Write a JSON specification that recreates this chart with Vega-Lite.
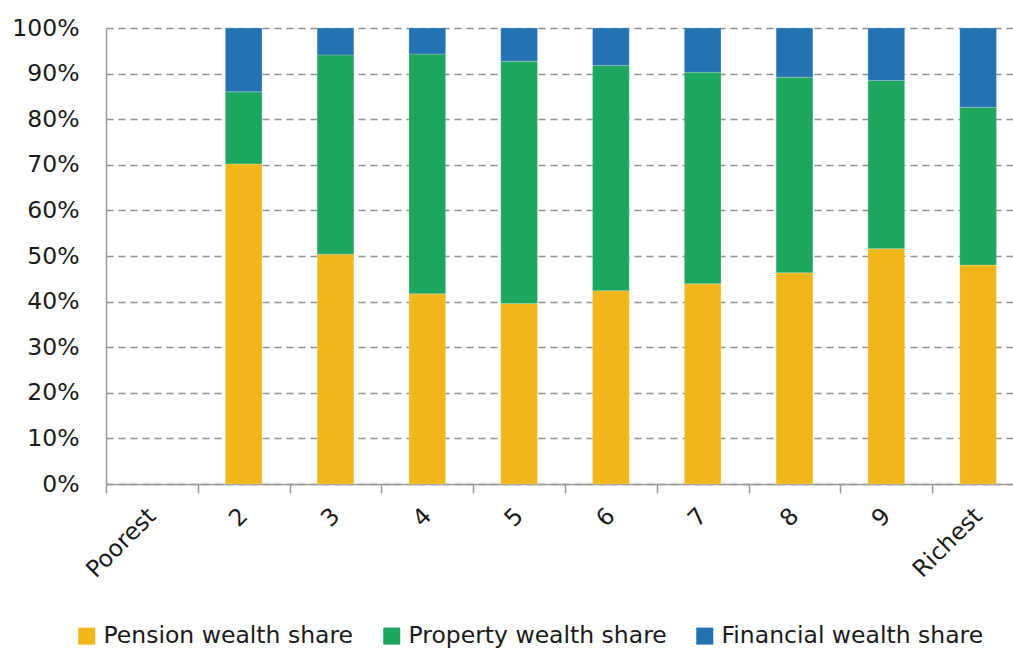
{
  "$schema": "https://vega.github.io/schema/vega-lite/v6.json",
  "width": 907,
  "height": 456,
  "autosize": {"type": "none"},
  "padding": {"left": 106, "top": 28, "right": 0, "bottom": 164},
  "background": "white",
  "config": {
    "view": {"stroke": null},
    "font": "DejaVu Sans"
  },
  "data": {
    "values": [
      {"decile": "2", "type": "Pension wealth share", "ord": 1, "share": 70.2},
      {"decile": "2", "type": "Property wealth share", "ord": 2, "share": 15.8},
      {"decile": "2", "type": "Financial wealth share", "ord": 3, "share": 14.0},
      {"decile": "3", "type": "Pension wealth share", "ord": 1, "share": 50.4},
      {"decile": "3", "type": "Property wealth share", "ord": 2, "share": 43.7},
      {"decile": "3", "type": "Financial wealth share", "ord": 3, "share": 5.9},
      {"decile": "4", "type": "Pension wealth share", "ord": 1, "share": 41.7},
      {"decile": "4", "type": "Property wealth share", "ord": 2, "share": 52.6},
      {"decile": "4", "type": "Financial wealth share", "ord": 3, "share": 5.7},
      {"decile": "5", "type": "Pension wealth share", "ord": 1, "share": 39.6},
      {"decile": "5", "type": "Property wealth share", "ord": 2, "share": 53.1},
      {"decile": "5", "type": "Financial wealth share", "ord": 3, "share": 7.3},
      {"decile": "6", "type": "Pension wealth share", "ord": 1, "share": 42.4},
      {"decile": "6", "type": "Property wealth share", "ord": 2, "share": 49.4},
      {"decile": "6", "type": "Financial wealth share", "ord": 3, "share": 8.2},
      {"decile": "7", "type": "Pension wealth share", "ord": 1, "share": 43.9},
      {"decile": "7", "type": "Property wealth share", "ord": 2, "share": 46.4},
      {"decile": "7", "type": "Financial wealth share", "ord": 3, "share": 9.7},
      {"decile": "8", "type": "Pension wealth share", "ord": 1, "share": 46.3},
      {"decile": "8", "type": "Property wealth share", "ord": 2, "share": 42.9},
      {"decile": "8", "type": "Financial wealth share", "ord": 3, "share": 10.8},
      {"decile": "9", "type": "Pension wealth share", "ord": 1, "share": 51.6},
      {"decile": "9", "type": "Property wealth share", "ord": 2, "share": 36.9},
      {"decile": "9", "type": "Financial wealth share", "ord": 3, "share": 11.5},
      {"decile": "Richest", "type": "Pension wealth share", "ord": 1, "share": 48.0},
      {"decile": "Richest", "type": "Property wealth share", "ord": 2, "share": 34.6},
      {"decile": "Richest", "type": "Financial wealth share", "ord": 3, "share": 17.4}
    ]
  },
  "mark": {"type": "bar", "width": {"band": 0.4}, "stroke": "white", "strokeWidth": 0.6, "strokeOpacity": 0.35},
  "encoding": {
    "x": {
      "field": "decile",
      "type": "nominal",
      "sort": null,
      "scale": {
        "domain": ["Poorest", "2", "3", "4", "5", "6", "7", "8", "9", "Richest"],
        "range": [0, 918],
        "paddingInner": 0,
        "paddingOuter": 0
      },
      "axis": {
        "title": null,
        "labelAngle": -45,
        "labelAlign": "right",
        "labelBaseline": "middle",
        "labelFontSize": 23.5,
        "labelColor": "#1a1a1a",
        "labelPadding": 19,
        "tickBand": "extent",
        "tickSize": 9,
        "tickColor": "#9a9a9a",
        "tickWidth": 1.5,
        "domainColor": "#9a9a9a",
        "domainWidth": 1.5,
        "grid": false
      }
    },
    "y": {
      "field": "share",
      "type": "quantitative",
      "stack": "zero",
      "scale": {"domain": [0, 100], "nice": false},
      "axis": {
        "title": null,
        "values": [0, 10, 20, 30, 40, 50, 60, 70, 80, 90, 100],
        "labelExpr": "datum.value + '%'",
        "labelFontSize": 23.5,
        "labelColor": "#1a1a1a",
        "labelPadding": 27,
        "ticks": false,
        "domainColor": "#9a9a9a",
        "domainWidth": 1.5,
        "grid": true,
        "gridColor": "#8f8f8f",
        "gridDash": [7, 5],
        "gridWidth": 1.5
      }
    },
    "color": {
      "field": "type",
      "type": "nominal",
      "sort": ["Pension wealth share", "Property wealth share", "Financial wealth share"],
      "scale": {
        "domain": ["Pension wealth share", "Property wealth share", "Financial wealth share"],
        "range": ["#F1B71A", "#1DA75E", "#2373B4"]
      },
      "legend": {
        "title": null,
        "orient": "none",
        "direction": "horizontal",
        "legendX": -31,
        "legendY": 596,
        "symbolType": "square",
        "symbolSize": 289,
        "symbolStrokeWidth": 0,
        "labelFontSize": 23.5,
        "labelColor": "#1a1a1a",
        "labelOffset": 5,
        "columnPadding": 26,
        "labelLimit": 400
      }
    },
    "order": {"field": "ord", "type": "quantitative", "sort": "ascending"}
  }
}
